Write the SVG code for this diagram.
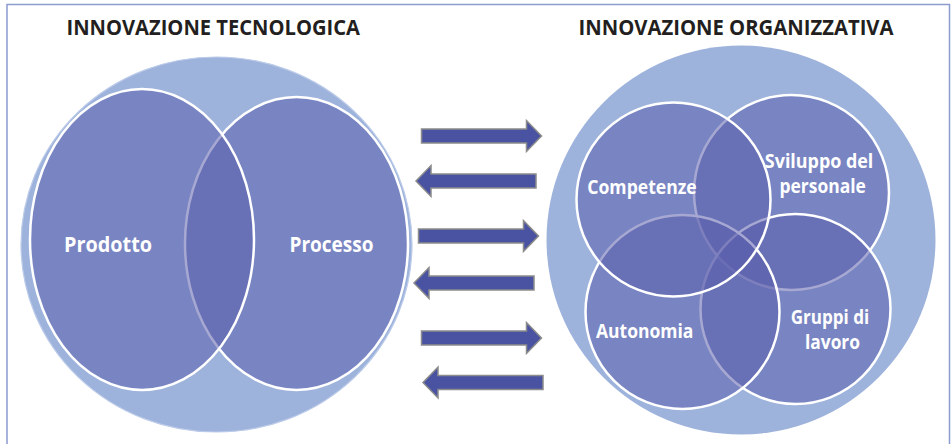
<svg xmlns="http://www.w3.org/2000/svg" width="952" height="444" viewBox="0 0 952 444">
  <defs>
    <style>
      .frame { fill: none; stroke: #8c9bd0; stroke-width: 1.5; }
      .title { font-family: "Open Sans", "Liberation Sans", Arial, sans-serif; font-weight: bold; font-size: 21.5px; fill: #231f20; }
      .label { font-family: "Open Sans", "Liberation Sans", Arial, sans-serif; font-weight: bold; fill: #ffffff; }
      .halo { fill: #9eb3dc; }
      .set { fill: #5a5eab; fill-opacity: 0.54; stroke: #ffffff; stroke-width: 2.5; }
      .arrow { fill: #4a53a2; stroke: #8c8c8c; stroke-width: 1.5; stroke-linejoin: miter; }
    </style>
    <!-- block arrow pointing right, origin at the tail, centred vertically -->
    <path id="block-arrow" d="M0,-7 H105 V-15.5 L120,0 L105,15.5 V7 H0 Z"/>
  </defs>

  <rect width="952" height="444" fill="#ffffff"/>

  <!-- open frame: left, top and right sides -->
  <path class="frame" d="M7,444 V4.5 H949.5 V444"/>

  <!-- titles -->
  <text id="title-tecnologica" class="title" x="66.5" y="35" textLength="293.5" lengthAdjust="spacingAndGlyphs">INNOVAZIONE TECNOLOGICA</text>
  <text id="title-organizzativa" class="title" x="578.5" y="35" textLength="315" lengthAdjust="spacingAndGlyphs">INNOVAZIONE ORGANIZZATIVA</text>

  <!-- technological innovation -->
  <g id="tecnologica">
    <ellipse class="halo" cx="216.5" cy="244.5" rx="195.5" ry="187.5" stroke="#bccbe9" stroke-width="1.2"/>
    <g id="processo">
      <ellipse class="set" cx="296.5" cy="243.5" rx="111.5" ry="146.5"/>
      <text class="label" x="331.5" y="252" font-size="21" text-anchor="middle" textLength="84" lengthAdjust="spacingAndGlyphs">Processo</text>
    </g>
    <g id="prodotto">
      <ellipse class="set" cx="142" cy="239.5" rx="112" ry="150.5"/>
      <text class="label" x="108" y="252" font-size="21" text-anchor="middle" textLength="88" lengthAdjust="spacingAndGlyphs">Prodotto</text>
    </g>
  </g>

  <!-- organisational innovation -->
  <g id="organizzativa">
    <circle class="halo" cx="741" cy="240" r="194.5"/>
    <g id="sviluppo">
      <circle class="set" cx="791.5" cy="192.5" r="97.5"/>
      <text class="label" font-size="20" text-anchor="middle">
        <tspan x="821.7" y="168" textLength="108.5" lengthAdjust="spacingAndGlyphs">Sviluppo del</tspan>
        <tspan x="822.7" y="192.5" textLength="86.5" lengthAdjust="spacingAndGlyphs">personale</tspan>
      </text>
    </g>
    <g id="gruppi">
      <circle class="set" cx="795.5" cy="309" r="95"/>
      <text class="label" font-size="20" text-anchor="middle">
        <tspan x="832.5" y="323.5" textLength="78.5" lengthAdjust="spacingAndGlyphs">Gruppi di</tspan>
        <tspan x="832.5" y="348.5" textLength="55" lengthAdjust="spacingAndGlyphs">lavoro</tspan>
      </text>
    </g>
    <g id="autonomia">
      <circle class="set" cx="682.5" cy="312" r="97"/>
      <text class="label" x="644.7" y="337.5" font-size="20" text-anchor="middle" textLength="97.5" lengthAdjust="spacingAndGlyphs">Autonomia</text>
    </g>
    <g id="competenze">
      <circle class="set" cx="673.5" cy="199.5" r="97"/>
      <text class="label" x="642" y="194.3" font-size="20" text-anchor="middle" textLength="109.5" lengthAdjust="spacingAndGlyphs">Competenze</text>
    </g>
  </g>

  <!-- exchange arrows between the two areas -->
  <g id="connectors">
    <use href="#block-arrow" class="arrow" transform="translate(421.5,136)"/>
    <use href="#block-arrow" class="arrow" transform="translate(536,181) scale(-1,1)"/>
    <use href="#block-arrow" class="arrow" transform="translate(418.5,236)"/>
    <use href="#block-arrow" class="arrow" transform="translate(534,283) scale(-1,1)"/>
    <use href="#block-arrow" class="arrow" transform="translate(421.5,338)"/>
    <use href="#block-arrow" class="arrow" transform="translate(543,382.5) scale(-1,1)"/>
  </g>
</svg>
